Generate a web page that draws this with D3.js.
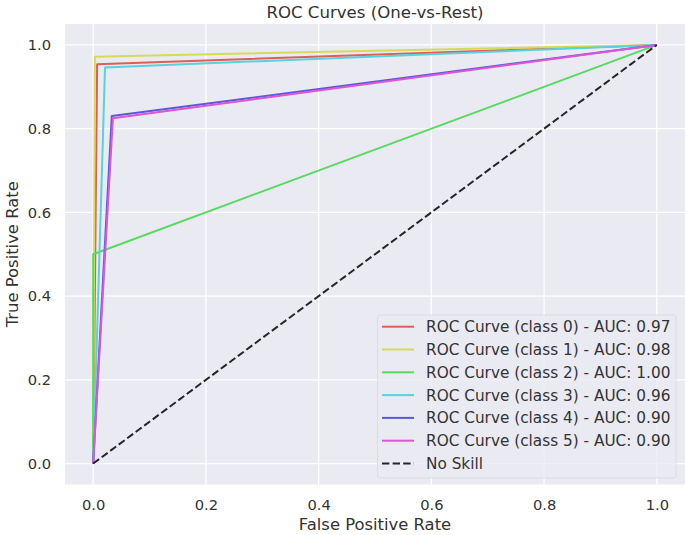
<!DOCTYPE html>
<html>
<head>
<meta charset="utf-8">
<script src="https://cdn.jsdelivr.net/npm/d3@7"></script>
<style>
  body { margin: 0; background: #fff; }
  svg text { font-family: "DejaVu Sans", sans-serif; fill: #333333; }
</style>
</head>
<body>
<svg id="chart" width="685" height="535"></svg>
<script>
// ---- data ----
const seriesNames = ["ROC Curve (class 0) - AUC: 0.97", "ROC Curve (class 1) - AUC: 0.98",
  "ROC Curve (class 2) - AUC: 1.00", "ROC Curve (class 3) - AUC: 0.96",
  "ROC Curve (class 4) - AUC: 0.90", "ROC Curve (class 5) - AUC: 0.90"];
const fpr0 = [0, 0.007, 1], tpr0 = [0, 0.954, 1];
const fpr1 = [0, 0.003, 1], tpr1 = [0, 0.972, 1];
const fpr2 = [0, 0, 1],     tpr2 = [0, 0.5, 1];
const fpr3 = [0, 0.021, 1], tpr3 = [0, 0.946, 1];
const fpr4 = [0, 0.033, 1], tpr4 = [0, 0.830, 1];
const fpr5 = [0, 0.035, 1], tpr5 = [0, 0.825, 1];
const noSkillX = [0, 1], noSkillY = [0, 1];
const ticks = [0.0, 0.2, 0.4, 0.6, 0.8, 1.0];
const colors = ["#db5f57", "#d3db57", "#57db5f", "#57d3db", "#5f57db", "#db57d3"];

const curves = [[fpr0, tpr0], [fpr1, tpr1], [fpr2, tpr2], [fpr3, tpr3], [fpr4, tpr4], [fpr5, tpr5]];

// ---- layout ----
const svg = d3.select("#chart");
const L = 65, R = 685, T = 24, B = 484.5;
const x = d3.scaleLinear().domain([-0.05, 1.05]).range([L, R]);
const y = d3.scaleLinear().domain([-0.05, 1.05]).range([B, T]);

svg.append("rect").attr("x", L).attr("y", T).attr("width", R - L).attr("height", B - T).attr("fill", "#eaeaf2");

// grid
const g = svg.append("g");
g.selectAll(".gx").data(ticks).enter().append("line")
  .attr("x1", d => x(d)).attr("x2", d => x(d)).attr("y1", T).attr("y2", B)
  .attr("stroke", "#fff").attr("stroke-width", 1.3);
g.selectAll(".gy").data(ticks).enter().append("line")
  .attr("y1", d => y(d)).attr("y2", d => y(d)).attr("x1", L).attr("x2", R)
  .attr("stroke", "#fff").attr("stroke-width", 1.3);

// axes (tick labels only)
const xAxis = d3.axisBottom(x).tickValues(ticks).tickFormat(d3.format(".1f")).tickSize(0).tickPadding(15);
const yAxis = d3.axisLeft(y).tickValues(ticks).tickFormat(d3.format(".1f")).tickSize(0).tickPadding(14);
const xa = svg.append("g").attr("transform", `translate(0,${B})`).call(xAxis);
const ya = svg.append("g").attr("transform", `translate(${L},0)`).call(yAxis);
[xa, ya].forEach(a => {
  a.select(".domain").remove();
  a.selectAll("text").style("font-size", "14.7px").attr("fill", "#333333").style("font-family", "DejaVu Sans, sans-serif");
});

// lines
const line = d3.line().x(d => x(d[0])).y(d => y(d[1]));
const plot = svg.append("g");
curves.forEach((c, i) => {
  const pts = c[0].map((v, k) => [v, c[1][k]]);
  plot.append("path").datum(pts).attr("d", line).attr("fill", "none")
    .attr("stroke", colors[i]).attr("stroke-width", 2).attr("stroke-linejoin", "round");
});
plot.append("path").datum(noSkillX.map((v, k) => [v, noSkillY[k]])).attr("d", line)
  .attr("fill", "none").attr("stroke", "#262626").attr("stroke-width", 2).attr("stroke-dasharray", "7.4,3.2");

// titles
svg.append("text").attr("x", (L + R) / 2).attr("y", 18).attr("text-anchor", "middle")
  .style("font-size", "16.6px").text("ROC Curves (One-vs-Rest)");
svg.append("text").attr("x", (L + R) / 2).attr("y", 530).attr("text-anchor", "middle")
  .style("font-size", "16.4px").text("False Positive Rate");
svg.append("text").attr("transform", `translate(18,${(T + B) / 2}) rotate(-90)`).attr("text-anchor", "middle")
  .style("font-size", "16.4px").text("True Positive Rate");

// legend
const lg = svg.append("g");
lg.append("rect").attr("x", 377.5).attr("y", 315).attr("width", 298.5).attr("height", 163)
  .attr("rx", 3).attr("fill", "#eaeaf2").attr("fill-opacity", 0.8).attr("stroke", "#dcdce4").attr("stroke-width", 1);
const legendItems = seriesNames.map((n, i) => ({ name: n, color: colors[i], dash: null }))
  .concat([{ name: "No Skill", color: "#262626", dash: "7.4,3.2" }]);
legendItems.forEach((d, i) => {
  const yy = 326.7 + i * 22.8;
  lg.append("line").attr("x1", 382).attr("x2", 414).attr("y1", yy).attr("y2", yy)
    .attr("stroke", d.color).attr("stroke-width", 2).attr("stroke-dasharray", d.dash);
  lg.append("text").attr("x", 426).attr("y", yy + 5.5).style("font-size", "15.3px").text(d.name);
});
</script>
</body>
</html>
